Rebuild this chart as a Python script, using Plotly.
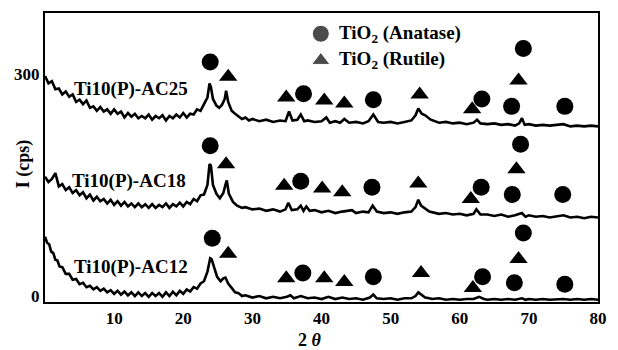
import plotly.graph_objects as go

# ---- XRD patterns: (2theta, intensity in cps, stacked as plotted) ----
ac25_pts = [
    (0, 297), (0.5, 287), (1, 290), (1.5, 279), (2, 280), (2.5, 272), (3, 276), (3.5, 269), (4, 272),
    (4.5, 262), (5, 265), (5.5, 259), (6, 264), (6.5, 254), (7, 256), (7.5, 250), (8, 255), (8.5, 249),
    (9, 252), (9.5, 246), (10, 252), (10.5, 246), (11, 249), (11.5, 241), (12, 247), (12.5, 242),
    (13, 246), (13.5, 240), (14, 243), (14.5, 240), (15, 245), (15.5, 238), (16, 243), (16.5, 240),
    (17, 244), (17.5, 237), (18, 243), (18.5, 240), (19, 245), (19.5, 241), (20, 247), (20.5, 241),
    (21, 246), (21.5, 245), (22, 252), (22.5, 250), (23, 259), (23.5, 268), (23.8, 287), (24.0, 282),
    (24.3, 266), (24.8, 257), (25.2, 254), (25.6, 258), (26.0, 266), (26.2, 277), (26.5, 262),
    (27, 250), (27.5, 246), (28, 243), (28.5, 239), (29, 241), (29.5, 237), (30, 239), (31, 236),
    (32, 238), (33, 235), (34, 237), (34.8, 236), (35.3, 249), (35.8, 237), (36.5, 238), (37, 245),
    (37.5, 236), (38, 237), (39, 235), (40, 236), (40.7, 241), (41.2, 234), (42, 236), (42.7, 234),
    (43.3, 239), (44, 234), (45, 235), (46, 233), (46.8, 236), (47.5, 245), (48.2, 235), (49, 234),
    (50, 235), (51, 233), (52, 235), (53, 237), (53.6, 244), (54, 253), (54.5, 246), (55, 244),
    (55.8, 238), (57, 234), (58, 235), (59, 233), (60, 234), (61, 232), (62, 234), (62.5, 238),
    (63, 233), (64, 232), (65, 233), (66, 231), (67, 232), (68, 230), (68.6, 233), (69, 240),
    (69.4, 231), (70, 232), (71, 230), (72, 231), (73, 230), (74, 231), (75, 232), (76, 229),
    (77, 230), (78, 229), (79, 230), (80, 229),
]
ac18_pts = [
    (0, 161), (0.5, 154), (1, 158), (1.5, 166), (2, 148), (2.5, 151), (3, 143), (3.5, 147), (4, 139),
    (4.5, 143), (5, 136), (5.5, 140), (6, 132), (6.5, 137), (7, 129), (7.5, 134), (8, 128), (8.5, 131),
    (9, 125), (9.5, 130), (10, 123), (10.5, 128), (11, 122), (11.5, 127), (12, 121), (12.5, 125),
    (13, 120), (13.5, 125), (14, 120), (14.5, 124), (15, 119), (15.5, 124), (16, 119), (16.5, 123),
    (17, 120), (17.5, 125), (18, 119), (18.5, 124), (19, 121), (19.5, 126), (20, 121), (20.5, 127),
    (21, 124), (21.5, 131), (22, 128), (22.5, 136), (23, 137), (23.5, 150), (23.8, 178), (24.0, 176),
    (24.3, 150), (24.8, 138), (25.3, 132), (25.8, 139), (26.1, 150), (26.3, 156), (26.6, 138),
    (27.2, 127), (27.8, 122), (28.5, 119), (29, 120), (30, 117), (31, 118), (32, 115), (33, 117),
    (34, 114), (34.8, 117), (35.2, 126), (35.7, 116), (36.5, 117), (37, 122), (37.4, 115), (37.8, 121),
    (38.3, 115), (39, 116), (40, 113), (41, 115), (42, 112), (43, 114), (44.4, 116), (45, 112),
    (46, 114), (46.8, 113), (47.4, 122), (48, 114), (49, 112), (50, 113), (51, 111), (52, 113),
    (53, 114), (53.6, 120), (54, 130), (54.4, 122), (55, 118), (55.6, 114), (57, 111), (58, 112),
    (59, 110), (60, 111), (61, 109), (62, 111), (62.4, 117), (63, 110), (64, 110), (65, 108),
    (66, 110), (67, 107), (68, 109), (69, 112), (69.5, 107), (70, 109), (71, 107), (72, 108),
    (73, 106), (74, 108), (75, 109), (76, 106), (77, 107), (78, 105), (79, 107), (80, 106),
]
ac12_pts = [
    (0, 80), (0.3, 72), (0.6, 70), (0.9, 60), (1.2, 58), (1.5, 49), (1.8, 48), (2.1, 40), (2.5, 39),
    (3, 30), (3.5, 30), (4, 22), (4.5, 23), (5, 16), (5.5, 18), (6, 12), (6.5, 14), (7, 9), (7.5, 12),
    (8, 7), (8.5, 10), (9, 5), (9.5, 8), (10, 3), (10.5, 7), (11, 2), (11.5, 6), (12, 1), (12.5, 5),
    (13, 0), (13.5, 5), (14, 0), (14.5, 4), (15, -1), (15.5, 4), (16, 0), (16.5, 4), (17, -1),
    (17.5, 5), (18, 0), (18.5, 6), (19, 1), (19.5, 7), (20, 3), (20.5, 9), (21, 6), (21.5, 12),
    (22, 10), (22.5, 17), (23, 20), (23.5, 33), (23.9, 51), (24.1, 50), (24.4, 40), (24.9, 26),
    (25.4, 20), (25.8, 24), (26.1, 25), (26.5, 17), (27, 11), (27.5, 5), (28, 4), (28.5, 0), (29, 1),
    (30, -2), (31, 0), (32, -3), (33, -1), (34, -3), (35, -1), (35.5, 1), (36, -3), (37, 0), (38, -3),
    (39, -2), (40, -4), (41, -1), (42, -4), (43, -2), (44, -4), (45, -3), (46, -5), (47, -2),
    (47.5, 2), (48, -3), (49, -4), (50, -3), (51, -5), (52, -3), (53, -3), (53.6, 0), (54, 5),
    (54.4, 2), (55, -2), (55.6, -3), (56, -4), (57, -3), (58, -5), (59, -4), (60, -5), (61, -4),
    (62, -4), (62.8, -1), (63.5, -4), (64, -5), (65, -4), (66, -5), (67, -4), (68, -5), (69, -3),
    (69.5, -5), (70, -4), (71, -5), (72, -4), (73, -5), (74, -4), (75, -4), (76, -5), (77, -4),
    (78, -5), (79, -4), (80, -5),
]

# ---- phase markers (2theta, height) ----
anatase_x = [23.9, 37.4, 47.5, 63.2, 67.5, 69.2, 75.2,
             23.9, 37.0, 47.3, 63.1, 67.6, 68.8, 74.9,
             24.2, 37.3, 47.5, 63.3, 67.9, 69.2, 75.2]
anatase_y = [316, 273, 265, 266, 256, 334, 256,
             203, 155, 147, 147, 137, 205, 137,
             78, 31, 26, 26, 18, 85, 16]
rutile_x = [26.5, 34.9, 40.4, 43.3, 54.2, 61.8, 68.5,
            26.2, 34.6, 40.1, 43.0, 54.0, 61.6, 68.2,
            26.5, 34.9, 40.4, 43.3, 54.4, 61.9, 68.5]
rutile_y = [296, 268, 264, 260, 272, 252, 291,
            178, 149, 145, 140, 152, 131, 171,
            57, 24, 24, 19, 31, 11, 50]

sample_labels = ["Ti10(P)-AC25", "Ti10(P)-AC18", "Ti10(P)-AC12"]
label_x = [12.4, 12.2, 12.4]
label_y = [279, 155, 39]

legend_labels = ["TiO<sub>2</sub> (Anatase)", "TiO<sub>2</sub> (Rutile)"]
legend_y = [354, 318]

x_ticks = [10, 20, 30, 40, 50, 60, 70, 80]
y_ticks = [0, 300]

FONT = "Liberation Serif"

fig = go.Figure()
for pts in (ac25_pts, ac18_pts, ac12_pts):
    xs = [p[0] for p in pts]
    ys = [p[1] for p in pts]
    fig.add_trace(go.Scatter(x=xs, y=ys, mode="lines",
                             line=dict(color="black", width=2.6), showlegend=False,
                             hoverinfo="skip"))

fig.add_trace(go.Scatter(x=anatase_x, y=anatase_y, mode="markers",
                         marker=dict(symbol="circle", size=17, color="black"), showlegend=False))
fig.add_trace(go.Scatter(x=rutile_x, y=rutile_y, mode="markers",
                         marker=dict(symbol="triangle-up", size=16, color="black"), showlegend=False))
# legend keys
fig.add_trace(go.Scatter(x=[39.9, 39.9], y=legend_y, mode="markers",
                         marker=dict(symbol=["circle", "triangle-up"], size=[17, 16], color="black"),
                         showlegend=False))

for t, x, y in zip(sample_labels, label_x, label_y):
    fig.add_annotation(x=x, y=y, text=t, showarrow=False, xref="x", yref="y",
                       font=dict(family=FONT, size=19, color="black", weight="bold"))
for t, y in zip(legend_labels, legend_y):
    fig.add_annotation(x=42.3, y=y, text=t, showarrow=False, xanchor="left", xref="x", yref="y",
                       font=dict(family=FONT, size=19, color="black", weight="bold"))

fig.add_annotation(x=-0.04, y=0.48, xref="paper", yref="paper", text="I (cps)", textangle=-90,
                   xanchor="center", yanchor="middle",
                   showarrow=False, font=dict(family=FONT, size=18, color="black", weight="bold"))
fig.add_annotation(x=0.48, y=-0.13, xref="paper", yref="paper", text="2 <i>θ</i>",
                   xanchor="center", yanchor="middle",
                   showarrow=False, font=dict(family=FONT, size=18, color="black", weight="bold"))

fig.update_layout(
    width=618, height=350,
    margin=dict(l=45, r=11, t=12, b=48),
    paper_bgcolor="white", plot_bgcolor="white",
    xaxis=dict(range=[0, 80], tickvals=x_ticks, ticks="", showgrid=False, zeroline=False,
               showline=True, linecolor="black", linewidth=2, mirror=True,
               tickfont=dict(family=FONT, size=17, color="black", weight="bold")),
    yaxis=dict(range=[-8, 382], tickvals=y_ticks, ticks="", showgrid=False, zeroline=False,
               showline=True, linecolor="black", linewidth=2, mirror=True,
               tickfont=dict(family=FONT, size=17, color="black", weight="bold")),
)

fig.write_html("out.html")
